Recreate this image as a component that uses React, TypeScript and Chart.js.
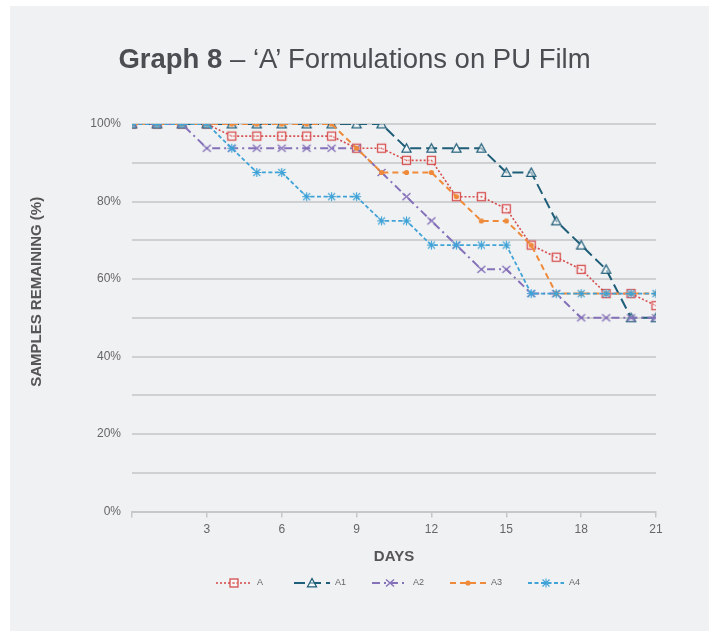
import React, { useEffect, useRef } from 'react';
import { Chart, registerables } from 'chart.js';

Chart.register(...registerables);

// ---- data ----
const days = [0, 1, 2, 3, 4, 5, 6, 7, 8, 9, 10, 11, 12, 13, 14, 15, 16, 17, 18, 19, 20, 21];
const seriesNames = ['A', 'A1', 'A2', 'A3', 'A4'];
const valuesA = [100, 100, 100, 100, 96.875, 96.875, 96.875, 96.875, 96.875, 93.75, 93.75, 90.625, 90.625, 81.25, 81.25, 78.125, 68.75, 65.625, 62.5, 56.25, 56.25, 53.125];
const valuesA1 = [100, 100, 100, 100, 100, 100, 100, 100, 100, 100, 100, 93.75, 93.75, 93.75, 93.75, 87.5, 87.5, 75, 68.75, 62.5, 50, 50];
const valuesA2 = [100, 100, 100, 93.75, 93.75, 93.75, 93.75, 93.75, 93.75, 93.75, 87.5, 81.25, 75, 68.75, 62.5, 62.5, 56.25, 56.25, 50, 50, 50, 50];
const valuesA3 = [100, 100, 100, 100, 100, 100, 100, 100, 100, 93.75, 87.5, 87.5, 87.5, 81.25, 75, 75, 68.75, 56.25, 56.25, 56.25, 56.25, 56.25];
const valuesA4 = [100, 100, 100, 100, 93.75, 87.5, 87.5, 81.25, 81.25, 81.25, 75, 75, 68.75, 68.75, 68.75, 68.75, 56.25, 56.25, 56.25, 56.25, 56.25, 56.25];
const xTickStep = 3;
const yTickLabelStep = 20;
const titleBold = 'Graph 8';
const titleRest = ' – ‘A’ Formulations on PU Film';
const xTitle = 'DAYS';
const yTitle = 'SAMPLES REMAINING (%)';

// ---- styles ----
const BG = '#f0f1f3';
const FONT = '"Liberation Sans", Arial, Helvetica, sans-serif';
const colors = ['#d64e4e', '#1f5e79', '#8571b9', '#ef8a3a', '#40a3d7'];
const dashes = [[2, 2], [11, 5], [8, 4, 2, 4], [6, 4], [4, 2.5]];
const widths = [1.6, 2, 2, 2, 1.8];
const markerKinds = ['square', 'triangle', 'cross', 'circle', 'star'];

function makeCanvas(w: number, h: number, draw: (g: CanvasRenderingContext2D) => void) {
  const c = document.createElement('canvas');
  c.width = w;
  c.height = h;
  const g = c.getContext('2d')!;
  draw(g);
  return c;
}

function drawMarker(g: CanvasRenderingContext2D, kind: string, color: string, cx: number, cy: number) {
  g.save();
  g.setLineDash([]);
  g.strokeStyle = color;
  g.fillStyle = color;
  if (kind === 'square') {
    g.fillStyle = 'rgba(255,255,255,0.45)';
    g.fillRect(cx - 4, cy - 4, 8, 8);
    g.lineWidth = 1.3;
    g.strokeRect(cx - 4, cy - 4, 8, 8);
    g.fillStyle = color;
    g.fillRect(cx - 0.7, cy - 0.7, 1.4, 1.4);
  } else if (kind === 'triangle') {
    g.beginPath();
    g.moveTo(cx, cy - 4.5);
    g.lineTo(cx + 4.5, cy + 3.8);
    g.lineTo(cx - 4.5, cy + 3.8);
    g.closePath();
    g.fillStyle = 'rgba(255,255,255,0.55)';
    g.fill();
    g.lineWidth = 1.3;
    g.stroke();
  } else if (kind === 'cross') {
    g.lineWidth = 1.4;
    g.beginPath();
    g.moveTo(cx - 4, cy - 3.5);
    g.lineTo(cx + 4, cy + 3.5);
    g.moveTo(cx + 4, cy - 3.5);
    g.lineTo(cx - 4, cy + 3.5);
    g.stroke();
  } else if (kind === 'circle') {
    g.beginPath();
    g.arc(cx, cy, 2.6, 0, Math.PI * 2);
    g.fill();
  } else if (kind === 'star') {
    g.lineWidth = 1.1;
    g.beginPath();
    g.moveTo(cx, cy - 4.5);
    g.lineTo(cx, cy + 4.5);
    g.moveTo(cx - 4.5, cy);
    g.lineTo(cx + 4.5, cy);
    g.moveTo(cx - 3.5, cy - 3.5);
    g.lineTo(cx + 3.5, cy + 3.5);
    g.moveTo(cx + 3.5, cy - 3.5);
    g.lineTo(cx - 3.5, cy + 3.5);
    g.stroke();
  }
  g.restore();
}

export default function App() {
  const ref = useRef<HTMLCanvasElement>(null);

  useEffect(() => {
    const seriesValues = [valuesA, valuesA1, valuesA2, valuesA3, valuesA4];
    const pointImgs = seriesNames.map((_, i) =>
      makeCanvas(13, 13, (g) => drawMarker(g, markerKinds[i], colors[i], 6.5, 6.5))
    );
    const SAMPLE_W = 36;
    const legendImgs = seriesNames.map((_, i) =>
      makeCanvas(SAMPLE_W, 12, (g) => {
        g.strokeStyle = colors[i];
        g.lineWidth = widths[i];
        g.setLineDash(dashes[i]);
        g.beginPath();
        g.moveTo(0, 6);
        g.lineTo(SAMPLE_W, 6);
        g.stroke();
        drawMarker(g, markerKinds[i], colors[i], SAMPLE_W / 2, 6);
      })
    );

    Chart.defaults.font.family = FONT;

    const decorations = {
      id: 'decorations',
      afterDraw(chart: any) {
        const ctx = chart.ctx as CanvasRenderingContext2D;
        const ca = chart.chartArea;
        // y axis title
        ctx.save();
        ctx.translate(ca.left - 95, (ca.top + ca.bottom) / 2 - 26);
        ctx.rotate(-Math.PI / 2);
        ctx.font = `bold 15px ${FONT}`;
        ctx.fillStyle = '#555';
        ctx.textAlign = 'center';
        ctx.textBaseline = 'middle';
        ctx.fillText(yTitle, 0, 0);
        ctx.restore();
        // legend
        ctx.save();
        ctx.font = `9px ${FONT}`;
        ctx.fillStyle = '#666';
        ctx.textAlign = 'left';
        ctx.textBaseline = 'middle';
        const pitch = 78;
        const gap = 5;
        const n = seriesNames.length;
        const lastW = SAMPLE_W + gap + ctx.measureText(seriesNames[n - 1]).width;
        const total = pitch * (n - 1) + lastW;
        const cx = (ca.left + ca.right) / 2 + 4;
        const y = ca.bottom + 71;
        let x = cx - total / 2;
        for (let i = 0; i < n; i++) {
          ctx.drawImage(legendImgs[i], Math.round(x), Math.round(y) - 6);
          ctx.fillText(seriesNames[i], x + SAMPLE_W + gap, y);
          x += pitch;
        }
        ctx.restore();
      },
    };

    const chart = new Chart(ref.current!, {
      type: 'line',
      data: {
        datasets: seriesNames.map((name, i) => ({
          label: name,
          data: days.map((d, j) => ({ x: d, y: seriesValues[i][j] })),
          borderColor: colors[i],
          backgroundColor: colors[i],
          borderWidth: widths[i],
          borderDash: dashes[i],
          pointStyle: pointImgs[i] as any,
          pointRadius: 5,
          fill: false,
          tension: 0,
          order: seriesNames.length - i,
        })),
      },
      options: {
        animation: false,
        responsive: true,
        maintainAspectRatio: false,
        layout: { padding: { left: 20, right: 53, top: 124, bottom: 65 } },
        scales: {
          x: {
            type: 'linear',
            min: 0,
            max: 21,
            ticks: {
              stepSize: xTickStep,
              autoSkip: false,
              maxRotation: 0,
              padding: 5,
              color: '#666',
              font: { size: 12 },
              callback: (v: any) => (v === 0 ? '' : String(v)),
            },
            grid: {
              drawOnChartArea: false,
              drawTicks: true,
              tickLength: 6,
              color: '#c6c7c9',
              lineWidth: 1.5,
            },
            border: { display: true, color: '#c6c7c9', width: 2 },
            title: {
              display: true,
              text: xTitle,
              color: '#555',
              font: { size: 15, weight: 'bold' },
              padding: { top: 6, bottom: 0 },
            },
          },
          y: {
            min: 0,
            max: 100,
            afterFit: (scale: any) => {
              scale.width = 112;
            },
            ticks: {
              stepSize: 10,
              padding: 11,
              color: '#666',
              font: { size: 12 },
              callback: (v: any) => (Number(v) % yTickLabelStep === 0 ? v + '%' : ''),
            },
            grid: { drawTicks: false, color: '#cfd0d2', lineWidth: 2 },
            border: { display: false },
          },
        },
        plugins: {
          tooltip: { enabled: false },
          legend: { display: false },
        },
      } as any,
      plugins: [decorations],
    });
    return () => chart.destroy();
  }, []);

  return (
    <div style={{ position: 'fixed', left: 0, top: 0, width: 709, height: 631, background: '#fff' }}>
      <div style={{ position: 'absolute', left: 10, top: 6, right: 0, bottom: 0, background: BG }} />
      <div style={{ position: 'absolute', left: 0, top: 0, width: 709, height: 631 }}>
        <canvas ref={ref} />
      </div>
      <div
        style={{
          position: 'absolute',
          left: 0,
          top: 44.7,
          width: 709,
          textAlign: 'center',
          fontFamily: FONT,
          fontSize: 27.5,
          lineHeight: 1,
          color: '#4b4d52',
          whiteSpace: 'nowrap',
        }}
      >
        <b>{titleBold}</b>
        {titleRest}
      </div>
    </div>
  );
}
